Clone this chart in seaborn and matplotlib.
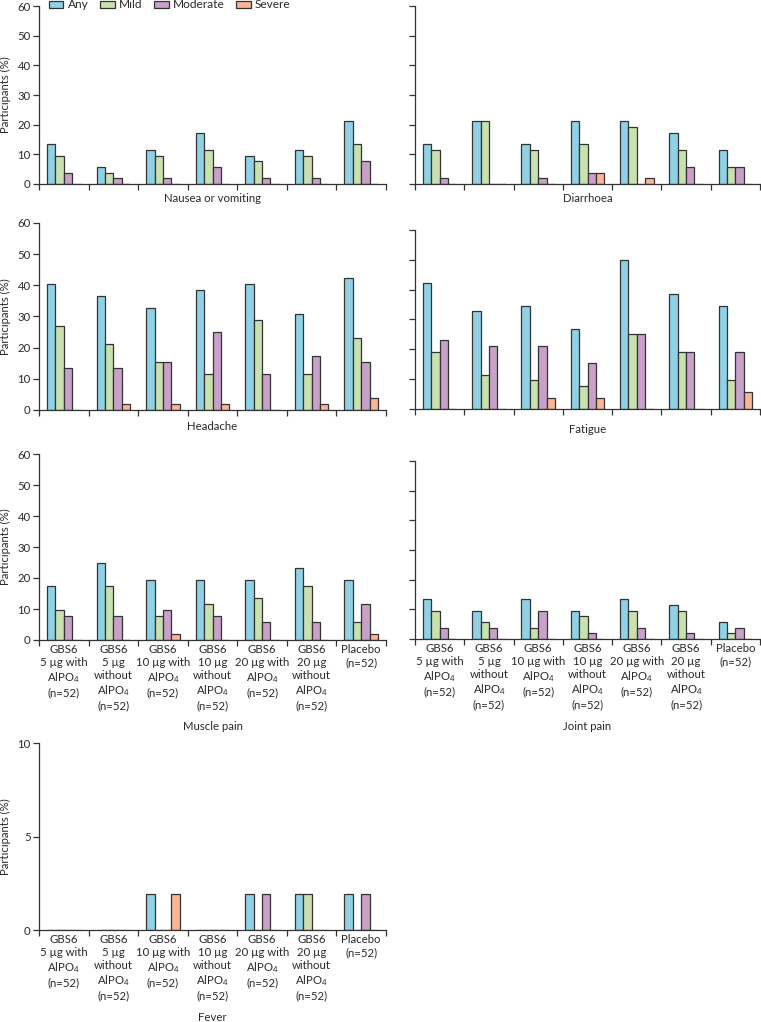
import numpy as np
import pandas as pd
import matplotlib
matplotlib.use("Agg")
import matplotlib.pyplot as plt
import seaborn as sns
from matplotlib.patches import Patch

groups = [
    "GBS6\n5 µg with\nAlPO$_4$\n(n=52)",
    "GBS6\n5 µg\nwithout\nAlPO$_4$\n(n=52)",
    "GBS6\n10 µg with\nAlPO$_4$\n(n=52)",
    "GBS6\n10 µg\nwithout\nAlPO$_4$\n(n=52)",
    "GBS6\n20 µg with\nAlPO$_4$\n(n=52)",
    "GBS6\n20 µg\nwithout\nAlPO$_4$\n(n=52)",
    "Placebo\n(n=52)",
]
severities = ["Any", "Mild", "Moderate", "Severe"]
colors = ["#8fd2e6", "#c8e1af", "#c8a0c8", "#fab496"]

# percent of participants, one list per severity, in group order
nausea_any = [13.5, 5.8, 11.5, 17.3, 9.6, 11.5, 21.2]
nausea_mild = [9.6, 3.8, 9.6, 11.5, 7.7, 9.6, 13.5]
nausea_moderate = [3.8, 1.9, 1.9, 5.8, 1.9, 1.9, 7.7]
nausea_severe = [0, 0, 0, 0, 0, 0, 0]

diarrhoea_any = [13.5, 21.2, 13.5, 21.2, 21.2, 17.3, 11.5]
diarrhoea_mild = [11.5, 21.2, 11.5, 13.5, 19.2, 11.5, 5.8]
diarrhoea_moderate = [1.9, 0, 1.9, 3.8, 0, 5.8, 5.8]
diarrhoea_severe = [0, 0, 0, 3.8, 1.9, 0, 0]

headache_any = [40.4, 36.5, 32.7, 38.5, 40.4, 30.8, 42.3]
headache_mild = [26.9, 21.2, 15.4, 11.5, 28.8, 11.5, 23.1]
headache_moderate = [13.5, 13.5, 15.4, 25.0, 11.5, 17.3, 15.4]
headache_severe = [0, 1.9, 1.9, 1.9, 0, 1.9, 3.8]

fatigue_any = [42.3, 32.7, 34.6, 26.9, 50.0, 38.5, 34.6]
fatigue_mild = [19.2, 11.5, 9.6, 7.7, 25.0, 19.2, 9.6]
fatigue_moderate = [23.1, 21.2, 21.2, 15.4, 25.0, 19.2, 19.2]
fatigue_severe = [0, 0, 3.8, 3.8, 0, 0, 5.8]

muscle_any = [17.3, 25.0, 19.2, 19.2, 19.2, 23.1, 19.2]
muscle_mild = [9.6, 17.3, 7.7, 11.5, 13.5, 17.3, 5.8]
muscle_moderate = [7.7, 7.7, 9.6, 7.7, 5.8, 5.8, 11.5]
muscle_severe = [0, 0, 1.9, 0, 0, 0, 1.9]

joint_any = [13.5, 9.6, 13.5, 9.6, 13.5, 11.5, 5.8]
joint_mild = [9.6, 5.8, 3.8, 7.7, 9.6, 9.6, 1.9]
joint_moderate = [3.8, 3.8, 9.6, 1.9, 3.8, 1.9, 3.8]
joint_severe = [0, 0, 0, 0, 0, 0, 0]

fever_any = [0, 0, 1.9, 0, 1.9, 1.9, 1.9]
fever_mild = [0, 0, 0, 0, 0, 1.9, 0]
fever_moderate = [0, 0, 0, 0, 1.9, 0, 1.9]
fever_severe = [0, 0, 1.9, 0, 0, 0, 0]

symptoms = ["Nausea or vomiting", "Diarrhoea", "Headache", "Fatigue",
            "Muscle pain", "Joint pain", "Fever"]
values = {
    "Nausea or vomiting": [nausea_any, nausea_mild, nausea_moderate, nausea_severe],
    "Diarrhoea": [diarrhoea_any, diarrhoea_mild, diarrhoea_moderate, diarrhoea_severe],
    "Headache": [headache_any, headache_mild, headache_moderate, headache_severe],
    "Fatigue": [fatigue_any, fatigue_mild, fatigue_moderate, fatigue_severe],
    "Muscle pain": [muscle_any, muscle_mild, muscle_moderate, muscle_severe],
    "Joint pain": [joint_any, joint_mild, joint_moderate, joint_severe],
    "Fever": [fever_any, fever_mild, fever_moderate, fever_severe],
}

rows = []
for s in symptoms:
    for sev, vals in zip(severities, values[s]):
        for g, v in zip(groups, vals):
            rows.append({"symptom": s, "severity": sev, "group": g, "pct": v})
df = pd.DataFrame(rows)

sns.set_style("ticks")
plt.rcParams["font.family"] = ["Lato", "DejaVu Sans"]
plt.rcParams["mathtext.fontset"] = "custom"
plt.rcParams["mathtext.rm"] = "Lato"
plt.rcParams["mathtext.it"] = "Lato:italic"
plt.rcParams["mathtext.bf"] = "Lato:bold"

W, H = 761, 1022
fig = plt.figure(figsize=(W / 100, H / 100), dpi=100)

# (left, top, right, bottom) in pixels, title centre y in pixels
layout = {
    "Nausea or vomiting": ((39, 6, 386, 184), 199),
    "Diarrhoea": ((415, 6, 760, 184), 199),
    "Headache": ((39, 223, 386, 410), 427),
    "Fatigue": ((415, 230, 760, 409), 429),
    "Muscle pain": ((39, 454, 386, 640), 727),
    "Joint pain": ((415, 461, 760, 639), 727),
    "Fever": ((39, 743, 386, 930), 1017),
}
left_col = {"Nausea or vomiting", "Headache", "Muscle pain", "Fever"}
with_xlabels = {"Muscle pain", "Joint pain", "Fever"}
spine_c = "#333333"
txt_c = "#2a2a2a"
fs = 8.2

for s in symptoms:
    (l, t, r, b), ty = layout[s]
    ax = fig.add_axes([l / W, 1 - b / H, (r - l) / W, (b - t) / H])
    sns.barplot(data=df[df.symptom == s], x="group", y="pct", hue="severity",
                order=groups, hue_order=severities, palette=colors,
                saturation=1, width=0.68, edgecolor=spine_c, linewidth=0.9,
                legend=False, ax=ax)
    ax.set_xlim(-0.5, 6.5)
    if s == "Fever":
        ax.set_ylim(0, 10)
        ax.set_yticks([0, 5, 10])
    else:
        ax.set_ylim(0, 60)
        ax.set_yticks(range(0, 61, 10))
    ax.set_xticks(range(len(groups)))
    ax.set_xticks(np.arange(-0.5, len(groups), 1), minor=True)
    ax.tick_params(axis="x", which="major", length=0, pad=3, labelsize=fs)
    ax.tick_params(axis="x", which="minor", length=4, width=0.9, color=spine_c)
    ax.tick_params(axis="y", length=4, width=0.9, color=spine_c, labelsize=fs,
                   pad=2, labelcolor=txt_c)
    if s in with_xlabels:
        ax.set_xticklabels(groups, linespacing=1.22, color=txt_c)
    else:
        ax.set_xticklabels([])
    ax.set_xlabel("")
    if s in left_col:
        ax.set_ylabel("Participants (%)", fontsize=fs, color=txt_c)
        ax.yaxis.set_label_coords(-0.082, 0.5)
    else:
        ax.set_ylabel("")
        ax.set_yticklabels([])
    sns.despine(ax=ax)
    for sp in ["left", "bottom"]:
        ax.spines[sp].set_color(spine_c)
        ax.spines[sp].set_linewidth(0.9)
    fig.text((l + r) / 2 / W, 1 - ty / H, s, ha="center", va="center",
             fontsize=fs, color=txt_c)

handles = [Patch(facecolor=c, edgecolor=spine_c, linewidth=0.9) for c in colors]
fig.legend(handles, severities, ncol=4, loc="center left",
           bbox_to_anchor=(49 / W, 1 - 5 / H), frameon=False, fontsize=8.6,
           handlelength=1.2, handleheight=0.55, handletextpad=0.35,
           columnspacing=1.0, borderpad=0, borderaxespad=0, labelcolor=txt_c)

fig.savefig("out.png", dpi=100)
